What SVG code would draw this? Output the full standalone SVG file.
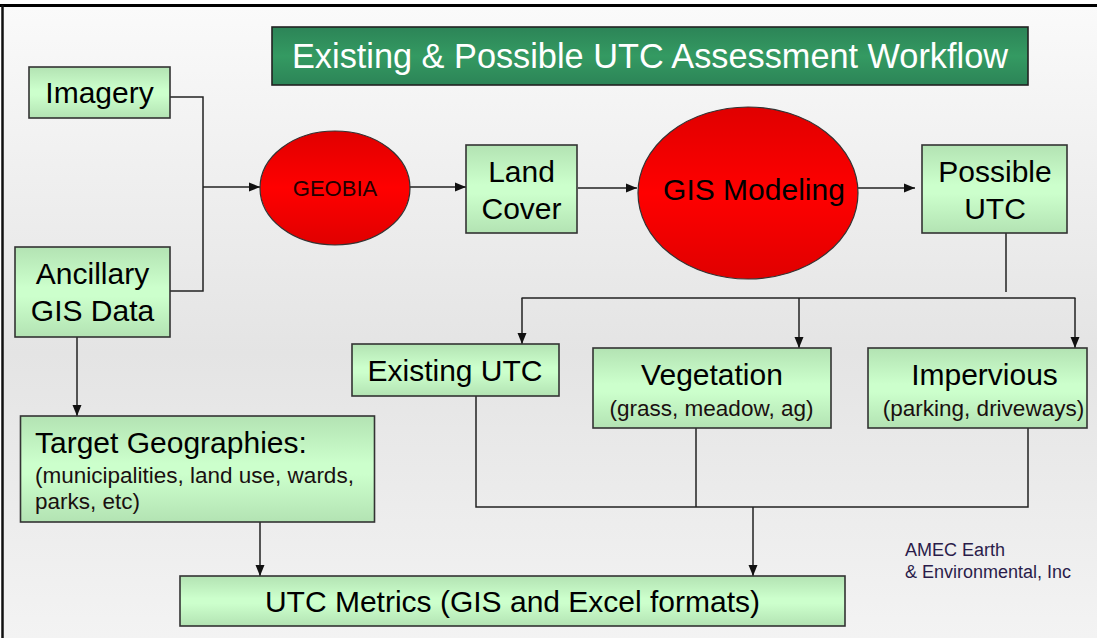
<svg xmlns="http://www.w3.org/2000/svg" width="1097" height="638" viewBox="0 0 1097 638">
  <defs>
    <linearGradient id="bg" x1="0" y1="0" x2="0" y2="1">
      <stop offset="0" stop-color="#fafafa"/>
      <stop offset="0.55" stop-color="#e4e4e4"/>
      <stop offset="1" stop-color="#f3f3f3"/>
    </linearGradient>
    <linearGradient id="green" x1="0" y1="0" x2="0" y2="1">
      <stop offset="0" stop-color="#b3e3b3"/>
      <stop offset="0.45" stop-color="#ccffcc"/>
      <stop offset="0.55" stop-color="#ccffcc"/>
      <stop offset="1" stop-color="#b3e3b3"/>
    </linearGradient>
    <linearGradient id="title" x1="0" y1="0" x2="0" y2="1">
      <stop offset="0" stop-color="#2c8457"/>
      <stop offset="0.5" stop-color="#349a62"/>
      <stop offset="1" stop-color="#2c8457"/>
    </linearGradient>
    <linearGradient id="red" x1="0" y1="0" x2="0" y2="1">
      <stop offset="0" stop-color="#e00000"/>
      <stop offset="0.5" stop-color="#ff0000"/>
      <stop offset="1" stop-color="#e00000"/>
    </linearGradient>
    <marker id="arr" markerUnits="userSpaceOnUse" markerWidth="12" markerHeight="10" refX="11" refY="5" orient="auto">
      <path d="M0,0.5 L11,5 L0,9.5 z" fill="#111"/>
    </marker>
    <style>
      .box { fill: url(#green); stroke: #333; stroke-width: 1.6; }
      .ell { fill: url(#red); stroke: #333; stroke-width: 1.2; }
      .t { font-family: "Liberation Sans", Arial, sans-serif; font-size: 30px; fill: #000; text-anchor: middle; }
      .s { font-family: "Liberation Sans", Arial, sans-serif; font-size: 22.5px; fill: #1a1010; text-anchor: middle; }
      .c { fill: none; stroke: #222; stroke-width: 1.5; }
      .a { fill: none; stroke: #222; stroke-width: 1.5; marker-end: url(#arr); }
    </style>
  </defs>

  <rect x="0" y="0" width="1097" height="638" fill="#ffffff"/>
  <rect x="3" y="6" width="1094" height="632" fill="url(#bg)"/>
  <line x1="0" y1="5.5" x2="1097" y2="5.5" stroke="#000" stroke-width="3"/>
  <line x1="2.5" y1="5" x2="2.5" y2="638" stroke="#111" stroke-width="2.5"/>

  <g id="connectors">
    <polyline class="c" points="170,97 203,97 203,291 170,291"/>
    <line class="a" x1="203" y1="187" x2="260" y2="187"/>
    <line class="a" x1="409" y1="187" x2="466" y2="187"/>
    <line class="a" x1="578" y1="188" x2="637" y2="188"/>
    <line class="a" x1="858" y1="188" x2="915" y2="188"/>
    <line class="c" x1="1006" y1="233" x2="1006" y2="292"/>
    <line class="c" x1="521.5" y1="298" x2="1075.5" y2="298"/>
    <line class="a" x1="522" y1="298" x2="522" y2="344"/>
    <line class="a" x1="799" y1="298" x2="799" y2="348"/>
    <line class="a" x1="1075" y1="298" x2="1075" y2="348"/>
    <line class="a" x1="77" y1="337" x2="77" y2="416"/>
    <polyline class="c" points="476,396 476,507 1028,507 1028,428"/>
    <line class="c" x1="696" y1="428" x2="696" y2="507"/>
    <line class="a" x1="753" y1="507" x2="753" y2="576"/>
    <line class="a" x1="260" y1="522" x2="260" y2="576"/>
  </g>

  <g id="title">
    <rect x="272" y="27" width="756" height="58" fill="url(#title)" stroke="#222" stroke-width="1.6"/>
    <text x="650" y="68" font-family="'Liberation Sans', Arial, sans-serif" font-size="34.3" fill="#ffffff" text-anchor="middle">Existing &amp; Possible UTC Assessment Workflow</text>
  </g>

  <g id="imagery">
    <rect class="box" x="29" y="67" width="141" height="51"/>
    <text class="t" x="99.5" y="103">Imagery</text>
  </g>

  <g id="ancillary">
    <rect class="box" x="15" y="247" width="155" height="90"/>
    <text class="t" x="92.5" y="284">Ancillary</text>
    <text class="t" x="92.5" y="321">GIS Data</text>
  </g>

  <g id="geobia">
    <ellipse class="ell" cx="335" cy="188" rx="75" ry="57"/>
    <text class="t" x="335" y="196" style="font-size:22px; fill:#220000">GEOBIA</text>
  </g>

  <g id="landcover">
    <rect class="box" x="466" y="145" width="111" height="88"/>
    <text class="t" x="521.5" y="182">Land</text>
    <text class="t" x="521.5" y="219">Cover</text>
  </g>

  <g id="gismodeling">
    <ellipse class="ell" cx="748" cy="193" rx="110" ry="86"/>
    <text class="t" x="754" y="200">GIS Modeling</text>
  </g>

  <g id="possibleutc">
    <rect class="box" x="922" y="145" width="145" height="88"/>
    <text class="t" x="995" y="182">Possible</text>
    <text class="t" x="995" y="219">UTC</text>
  </g>

  <g id="existingutc">
    <rect class="box" x="352" y="344" width="207" height="52"/>
    <text class="t" x="455" y="381">Existing UTC</text>
  </g>

  <g id="vegetation">
    <rect class="box" x="593" y="348" width="238" height="80"/>
    <text class="t" x="712" y="385">Vegetation</text>
    <text class="s" x="711.5" y="416">(grass, meadow, ag)</text>
  </g>

  <g id="impervious">
    <rect class="box" x="868" y="348" width="219" height="80"/>
    <text class="t" x="984.5" y="385">Impervious</text>
    <text class="s" x="983.5" y="416">(parking, driveways)</text>
  </g>

  <g id="target">
    <rect class="box" x="20.5" y="416" width="354" height="106"/>
    <text class="t" x="35" y="453" style="text-anchor:start">Target Geographies:</text>
    <text class="s" x="35" y="483" style="text-anchor:start">(municipalities, land use, wards,</text>
    <text class="s" x="35" y="509" style="text-anchor:start">parks, etc)</text>
  </g>

  <g id="metrics">
    <rect class="box" x="180" y="576" width="665" height="50"/>
    <text class="t" x="512.5" y="612">UTC Metrics (GIS and Excel formats)</text>
  </g>

  <g id="credit">
    <text x="905" y="556" font-family="'Liberation Sans', Arial, sans-serif" font-size="18" fill="#2a1c4a">AMEC Earth</text>
    <text x="905" y="578" font-family="'Liberation Sans', Arial, sans-serif" font-size="18" fill="#2a1c4a">&amp; Environmental, Inc</text>
  </g>
</svg>
